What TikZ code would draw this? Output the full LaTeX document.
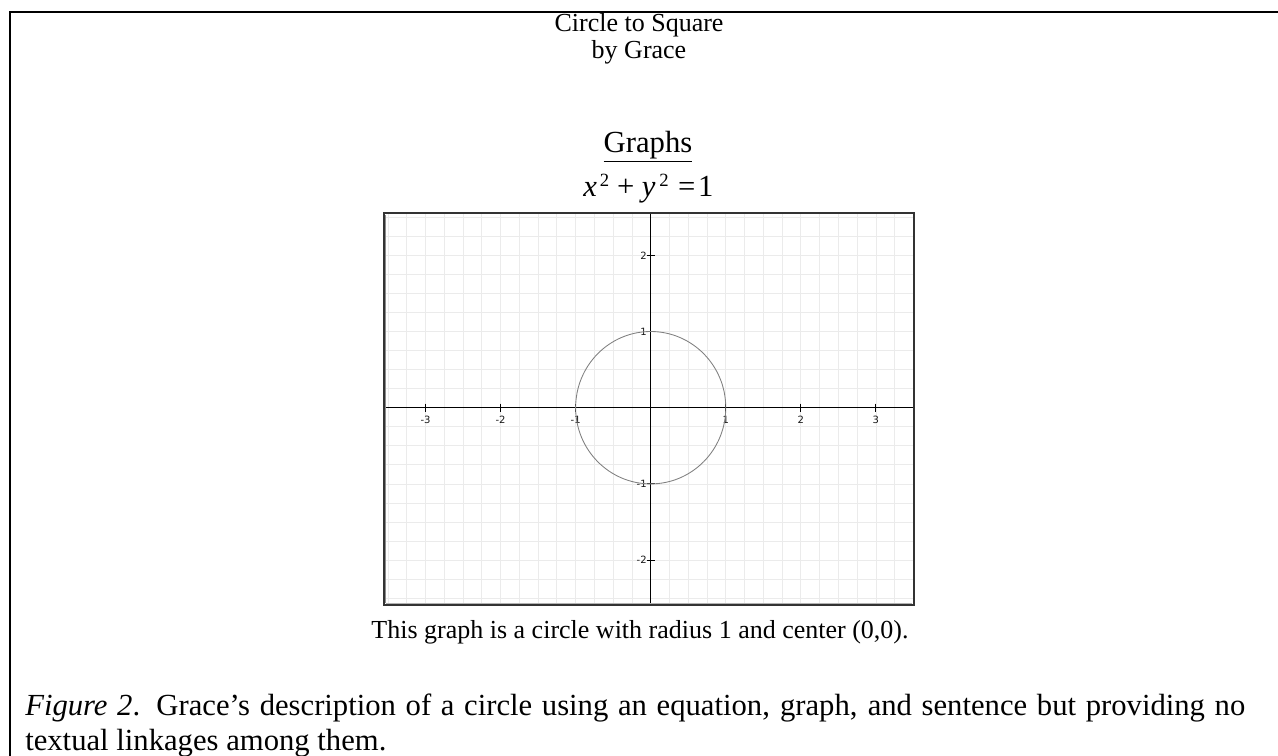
\documentclass[tikz,border=0pt]{standalone}
\usepackage{fontspec}
\setmainfont{Liberation Serif}
\newfontfamily\ticksans{DejaVu Sans}
\begin{document}
\begin{tikzpicture}[x=0.75pt,y=-0.75pt,
  txt/.style={inner sep=0pt,anchor=base,font=\fontsize{23}{26}\selectfont},
  smalltxt/.style={txt,font=\fontsize{19.5}{23}\selectfont},
  ticklab/.style={inner sep=0pt,font=\ticksans\fontsize{7.5}{8}\selectfont,text=black!90},
  gridline/.style={draw=black!8,line width=0.6pt},
  axisline/.style={draw=black,line width=0.9pt}]
\useasboundingbox (0,0) rectangle (1278,756);
% outer frame (top and left)
\draw[line width=1.3pt] (9.3,12) -- (1278,12);
\draw[line width=1.3pt] (10.2,11.2) -- (10.2,756);
% titles
\node[smalltxt] (title) at (639,32) {Circle to Square};
\node[smalltxt] (author) at (639,59) {by Grace};
\node[txt] (graphs) at (648,153) {\underline{Graphs}};
\node[txt,anchor=base west] (eq) at (583,196) {\textit{x}\hspace{2.2pt}\raisebox{6.75pt}{\fontsize{14}{14}\selectfont 2}\hspace{6pt}+\hspace{5.5pt}\textit{y}\hspace{3pt}\raisebox{6.75pt}{\fontsize{14}{14}\selectfont 2}\hspace{7pt}=\hspace{2pt}1};
% graph
\begin{scope}[shift={(650.7,407.7)},x=56.3pt,y=57.15pt]
  \coordinate (bl) at (-3.553,-2.589);
  \coordinate (tr) at (3.507,2.555);
  \begin{scope}
    \clip (bl) rectangle (tr);
    \foreach \i in {-14,...,14} \draw[gridline] (\i*0.25,-2.6) -- (\i*0.25,2.6);
    \foreach \j in {-11,...,11} \draw[gridline] (-3.6,\j*0.25) -- (3.6,\j*0.25);
  \end{scope}
  \draw[axisline] (bl -| 0,0) ++(0,0.02) coordinate (yb) -- (0,2.54) coordinate (yt);
  \draw[axisline] (-3.54,0) coordinate (xl) -- (3.49,0) coordinate (xr);
  \foreach \t in {-3,-2,-1,1,2,3} {
    \draw[line width=0.7pt] (\t,0.055) -- (\t,-0.055);
    \node[ticklab] (xt\t) at (\t,-0.16) {\ifnum\t<0 -\number\numexpr-\t\relax\else\t\fi};
  }
  \foreach \t in {-2,-1,1,2} {
    \draw[line width=0.7pt] (-0.055,\t) -- (0.055,\t);
    \node[ticklab,anchor=east] (yt\t) at (-0.05,\t) {\ifnum\t<0 -\number\numexpr-\t\relax\else\t\fi};
  }
  \draw[black!50,line width=0.65pt] (0,0) ellipse (1 and 1);
  \draw[black!30,line width=0.9pt] ([xshift=1.2pt,yshift=1.3pt]bl) -- ([xshift=-1.2pt,yshift=1.3pt]bl -| tr);
  \draw[black!45,line width=0.6pt] ([xshift=1.3pt,yshift=1.5pt]bl) -- ([xshift=1.3pt,yshift=-1.3pt]bl |- tr);
  \draw[black!80,line width=1.1pt] (bl) rectangle (tr);
\end{scope}
% sentence and caption
\node[smalltxt] (sentence) at (640,638) {This graph is a circle with radius 1 and center (0,0).};
\node[txt,anchor=north west,text width=915pt,align=justify] (cap) at (25,694)
  {\textit{Figure 2}. Grace’s description of a circle using an equation, graph, and sentence but providing no textual linkages among them.};
\end{tikzpicture}
\end{document}
